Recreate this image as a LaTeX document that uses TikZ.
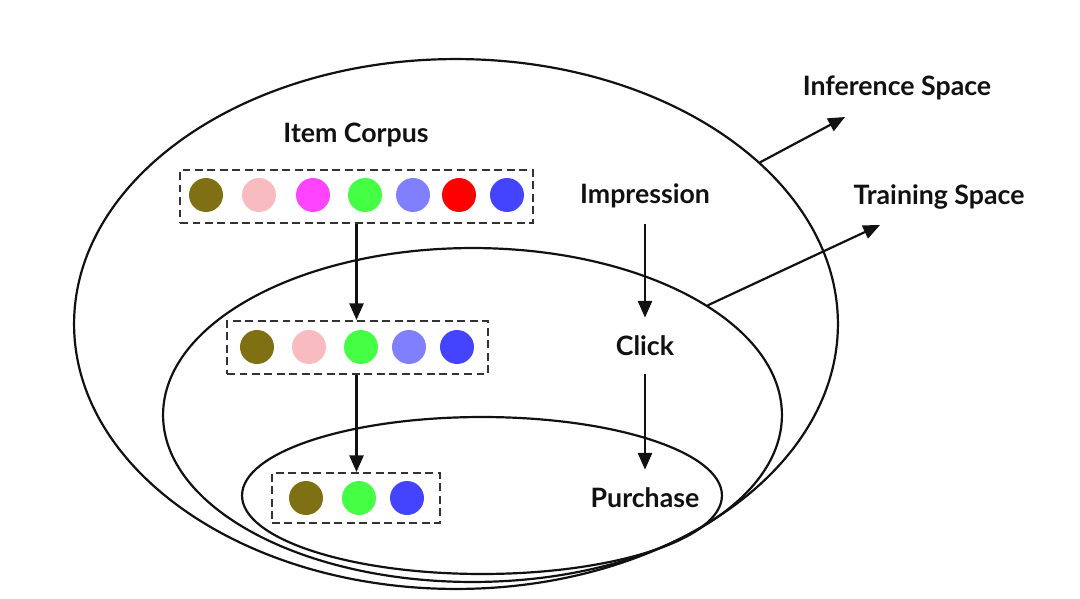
\documentclass[tikz,border=0pt]{standalone}
\usepackage{fontspec}
\setmainfont{Lato}
\usetikzlibrary{arrows.meta,shapes.geometric}
\definecolor{cOlive}{RGB}{128,112,20}
\definecolor{cPink}{RGB}{248,188,192}
\definecolor{cMagenta}{RGB}{255,68,255}
\definecolor{cGreen}{RGB}{68,255,68}
\definecolor{cLav}{RGB}{128,128,255}
\definecolor{cRed}{RGB}{255,0,0}
\definecolor{cBlue}{RGB}{68,68,255}
\definecolor{ink}{RGB}{17,17,17}
\tikzset{
  space/.style={ellipse, draw=ink, line width=1.25pt, inner sep=0pt},
  dot/.style={circle, fill=#1, minimum size=0.68cm, inner sep=0pt},
  corpus/.style={draw=black!80, dashed, dash pattern=on 4.5pt off 2.6pt, line width=1.1pt, inner sep=0pt},
  lbl/.style={text=ink, font=\bfseries\fontsize{15.2}{18}\selectfont, inner sep=0pt},
  stage/.style={lbl, minimum height=1.12cm},
  conn/.style={draw=ink, line width=1.25pt, -{Triangle[length=9.5pt,width=8pt]}}
}
\begin{document}
\begin{tikzpicture}[x=0.02cm, y=-0.02cm]
\useasboundingbox (0,0) rectangle (1080,599);
% spaces
\node[space, minimum width=15.28cm, minimum height=10.6cm] (outer) at (456,324) {};
\node[space, minimum width=12.38cm, minimum height=6.68cm] (middle) at (472.5,415) {};
\node[space, minimum width=9.6cm, minimum height=3.14cm] (inner) at (482,495.5) {};
% item corpus
\node[lbl] (corpusLabel) at (356,135) {Item Corpus};
\node[corpus, minimum width=7.06cm, minimum height=1.06cm] (box1) at (356.5,196.5) {};
\node[dot=cOlive]   (a1) at (206,195) {};
\node[dot=cPink]    (a2) at (259,195) {};
\node[dot=cMagenta] (a3) at (313,195) {};
\node[dot=cGreen]   (a4) at (365,195) {};
\node[dot=cLav]     (a5) at (413,195) {};
\node[dot=cRed]     (a6) at (459,195) {};
\node[dot=cBlue]    (a7) at (507,195) {};
\node[corpus, minimum width=5.22cm, minimum height=1.06cm] (box2) at (357.5,347.5) {};
\node[dot=cOlive]   (b1) at (257,347) {};
\node[dot=cPink]    (b2) at (309,347) {};
\node[dot=cGreen]   (b3) at (361,347) {};
\node[dot=cLav]     (b4) at (409,347) {};
\node[dot=cBlue]    (b5) at (457,347) {};
\node[corpus, minimum width=3.36cm, minimum height=1.0cm] (box3) at (356,498) {};
\node[dot=cOlive]   (c1) at (306,498) {};
\node[dot=cGreen]   (c2) at (359,498) {};
\node[dot=cBlue]    (c3) at (407,498) {};
\draw[conn] (box1.south) -- (box1.south |- box2.north);
\draw[conn] (box1.south |- box2.south) -- (box1.south |- box3.north);
% stages
\node[stage] (imp) at (645,196) {Impression};
\node[stage] (click) at (645,346) {Click};
\node[stage] (purch) at (645,498) {Purchase};
\draw[conn] (imp) -- (click);
\draw[conn] (click) -- (purch);
% space labels
\node[lbl] (infLabel) at (897,88) {Inference Space};
\node[lbl] (trainLabel) at (939,197) {Training Space};
\coordinate (infTip) at (845,117);
\coordinate (trainTip) at (880,225);
\draw[conn] (outer.28.2) -- (infTip);
\draw[conn] (middle.25.1) -- (trainTip);
\end{tikzpicture}
\end{document}
